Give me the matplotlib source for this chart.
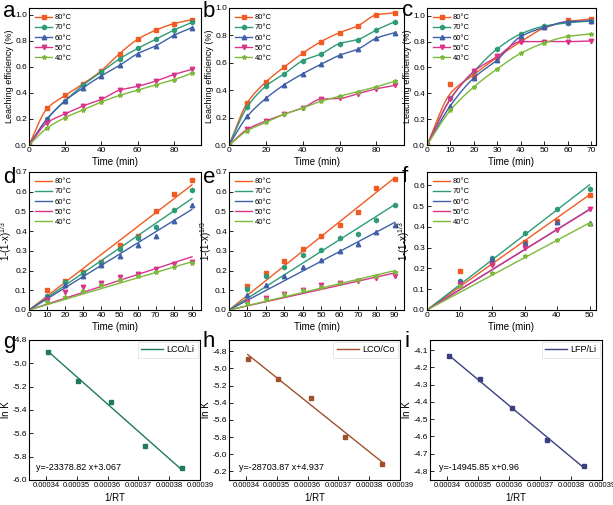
import numpy as np
import matplotlib.pyplot as plt
from matplotlib.ticker import FormatStrFormatter

plt.rcParams['font.family'] = ['Liberation Sans', 'DejaVu Sans']
plt.rcParams['axes.unicode_minus'] = False
plt.rcParams['mathtext.default'] = 'regular'

# ---------- data ----------
temps = ['80°C', '70°C', '60°C', '50°C', '40°C']
colors = ['#F15A22', '#2E9B78', '#3F5FA8', '#D9348A', '#7CB93A']
markers = ['s', 'h', '^', 'v', '*']

t_90 = [0, 10, 20, 30, 40, 50, 60, 70, 80, 90]
t_70 = [0, 10, 20, 30, 40, 50, 60, 70]

a_80 = [0, 0.28, 0.38, 0.47, 0.57, 0.70, 0.81, 0.88, 0.93, 0.96]
a_70 = [0, 0.20, 0.34, 0.46, 0.56, 0.66, 0.74, 0.81, 0.88, 0.94]
a_60 = [0, 0.20, 0.34, 0.44, 0.53, 0.61, 0.70, 0.76, 0.84, 0.90]
a_50 = [0, 0.17, 0.24, 0.30, 0.35, 0.42, 0.45, 0.49, 0.54, 0.58]
a_40 = [0, 0.13, 0.21, 0.27, 0.33, 0.38, 0.42, 0.46, 0.50, 0.55]

b_80 = [0, 0.31, 0.46, 0.57, 0.67, 0.755, 0.82, 0.87, 0.95, 0.965]
b_70 = [0, 0.28, 0.43, 0.52, 0.615, 0.665, 0.74, 0.77, 0.84, 0.90]
b_60 = [0, 0.21, 0.34, 0.44, 0.52, 0.59, 0.655, 0.70, 0.78, 0.82]
b_50 = [0, 0.115, 0.175, 0.225, 0.27, 0.335, 0.34, 0.375, 0.41, 0.435]
b_40 = [0, 0.105, 0.165, 0.225, 0.27, 0.32, 0.355, 0.39, 0.425, 0.465]

c_80 = [0, 0.47, 0.535, 0.68, 0.81, 0.91, 0.97, 0.975]
c_70 = [0, 0.36, 0.57, 0.745, 0.86, 0.92, 0.945, 0.96]
c_60 = [0, 0.305, 0.52, 0.66, 0.84, 0.91, 0.955, 0.96]
c_50 = [0, 0.355, 0.57, 0.685, 0.80, 0.80, 0.80, 0.805]
c_40 = [0, 0.27, 0.45, 0.59, 0.71, 0.79, 0.84, 0.86]
# fitted curve of 80°C in panel c does not pass through its points
c_80_line = [0, 0.40, 0.545, 0.68, 0.80, 0.905, 0.955, 0.975]

t_d = [10, 20, 30, 40, 50, 60, 70, 80, 90]
d_80 = [0.10, 0.147, 0.195, 0.245, 0.33, 0.375, 0.50, 0.59, 0.66]
d_70 = [0.072, 0.14, 0.19, 0.24, 0.307, 0.363, 0.42, 0.505, 0.607]
d_60 = [0.068, 0.127, 0.174, 0.228, 0.275, 0.332, 0.376, 0.452, 0.535]
d_50 = [0.05, 0.09, 0.115, 0.135, 0.168, 0.182, 0.207, 0.231, 0.245]
d_40 = [0.042, 0.068, 0.096, 0.126, 0.152, 0.172, 0.194, 0.216, 0.236]
d_k = [0.00705, 0.00628, 0.00567, 0.0030, 0.00272]

e_80 = [0.12, 0.188, 0.247, 0.309, 0.376, 0.431, 0.498, 0.62, 0.666]
e_70 = [0.108, 0.175, 0.218, 0.277, 0.305, 0.364, 0.384, 0.456, 0.535]
e_60 = [0.078, 0.126, 0.175, 0.218, 0.255, 0.30, 0.334, 0.398, 0.431]
e_50 = [0.04, 0.062, 0.082, 0.099, 0.129, 0.138, 0.146, 0.163, 0.175]
e_40 = [0.037, 0.057, 0.079, 0.10, 0.117, 0.138, 0.154, 0.175, 0.191]
e_k = [0.00746, 0.00594, 0.00494, 0.00209, 0.00222]

t_f = [10, 20, 30, 40, 50]
f_80 = [0.19, 0.227, 0.328, 0.428, 0.555]
f_70 = [0.14, 0.25, 0.373, 0.487, 0.583]
f_60 = [0.138, 0.248, 0.322, 0.424, 0.42]
f_50 = [0.124, 0.217, 0.30, 0.384, 0.487]
f_40 = [0.115, 0.18, 0.262, 0.338, 0.413]
f_k = [0.0111, 0.01206, 0.0097, 0.00968, 0.0084]

inv_rt = [0.0003406, 0.0003505, 0.000361, 0.0003722, 0.0003841]
g_lnk = [-4.905, -5.15, -5.335, -5.708, -5.895]
h_lnk = [-4.89, -5.12, -5.35, -5.80, -6.11]
i_lnk = [-4.133, -4.27, -4.435, -4.622, -4.77]
fits = [(-23378.82, 3.067), (-28703.87, 4.937), (-14945.85, 0.96)]
fit_labels = ['y=-23378.82 x+3.067', 'y=-28703.87 x+4.937', 'y=-14945.85 x+0.96']
arr_names = ['LCO/Li', 'LCO/Co', 'LFP/Li']
arr_colors = ['#1F7A5C', '#A3502A', '#3B3F80']


def smooth(x, y, n=200):
    # monotone cubic (pchip) curve through the points, like Origin's spline line
    x = np.asarray(x, float)
    y = np.asarray(y, float)
    h = np.diff(x)
    d = np.diff(y) / h
    m = np.zeros_like(y)
    m[0], m[-1] = d[0], d[-1]
    for k in range(1, len(x) - 1):
        if d[k - 1] * d[k] > 0:
            w1 = 2 * h[k] + h[k - 1]
            w2 = h[k] + 2 * h[k - 1]
            m[k] = (w1 + w2) / (w1 / d[k - 1] + w2 / d[k])
    xs = np.linspace(x[0], x[-1], n)
    i = np.clip(np.searchsorted(x, xs) - 1, 0, len(x) - 2)
    t = (xs - x[i]) / h[i]
    ys = ((2 * t**3 - 3 * t**2 + 1) * y[i] + (t**3 - 2 * t**2 + t) * h[i] * m[i]
          + (-2 * t**3 + 3 * t**2) * y[i + 1] + (t**3 - t**2) * h[i] * m[i + 1])
    return xs, ys


def style(ax, xsize=6):
    ax.tick_params(direction='in', labelsize=6, length=3, width=0.6, pad=1.5)
    ax.tick_params(axis='x', labelsize=xsize)
    for s in ax.spines.values():
        s.set_linewidth(0.8)


W, H = 613, 505
fig = plt.figure(figsize=(W / 100, H / 100), dpi=100)


def add_ax(l, t, r, b):
    return fig.add_axes([l / W, 1 - b / H, (r - l) / W, (b - t) / H])


cols = [(29, 201), (229, 404), (427, 596)]
cols3 = [(29, 200), (229, 400), (430, 602)]
rows = [(8, 145), (172, 310), (340, 480)]

leg_kw = dict(loc='upper left', fontsize=5.5, frameon=False, handlelength=2.2,
              labelspacing=0.35, borderaxespad=0.4, handletextpad=0.4)

# ---------- row 1: leaching efficiency ----------
row1 = [(t_90, [a_80, a_70, a_60, a_50, a_40], None, (0, 95), (0, 1.05), [0, 20, 40, 60, 80]),
        (t_90, [b_80, b_70, b_60, b_50, b_40], None, (0, 95), (0, 1.0), [0, 20, 40, 60, 80]),
        (t_70, [c_80, c_70, c_60, c_50, c_40], c_80_line, (0, 72), (0, 1.06), [0, 10, 20, 30, 40, 50, 60, 70])]
for j, (tt, series, first_line, xl, yl, xt) in enumerate(row1):
    ax = add_ax(cols[j][0], rows[0][0], cols[j][1], rows[0][1])
    for k, ys in enumerate(series):
        line_y = first_line if (k == 0 and first_line is not None) else ys
        xs, sy = smooth(tt, line_y)
        ax.plot(xs, sy, color=colors[k], lw=1.0)
        ax.plot(tt, ys, ls='none', marker=markers[k], color=colors[k], ms=3.2)
        ax.plot([], [], color=colors[k], lw=1.0, marker=markers[k], ms=3.2, label=temps[k])
    ax.set_xlim(*xl)
    ax.set_ylim(*yl)
    ax.set_xticks(xt)
    ax.set_yticks([0, 0.2, 0.4, 0.6, 0.8, 1.0])
    ax.yaxis.set_major_formatter(FormatStrFormatter('%.1f'))
    ax.set_xlabel('Time (min)', fontsize=7, labelpad=2)
    ax.set_ylabel('Leaching efficiency (%)', fontsize=6.5, labelpad=1)
    ax.legend(**leg_kw)
    style(ax)

# ---------- row 2: shrinking core kinetics ----------
row2 = [(t_d, [d_80, d_70, d_60, d_50, d_40], d_k, 90, (0, 95), (0, 0.7), np.arange(0, 91, 10), np.arange(0, 0.71, 0.1)),
        (t_d, [e_80, e_70, e_60, e_50, e_40], e_k, 90, (0, 95), (0, 0.7), np.arange(0, 91, 10), np.arange(0, 0.71, 0.1)),
        (t_f, [f_80, f_70, f_60, f_50, f_40], f_k, 50, (0, 52), (0, 0.665), np.arange(0, 51, 10), np.arange(0, 0.61, 0.1))]
for j, (tt, series, ks, tmax, xl, yl, xt, yt) in enumerate(row2):
    ax = add_ax(cols[j][0], rows[1][0], cols[j][1], rows[1][1])
    for k, ys in enumerate(series):
        ax.plot([0, tmax], [0, ks[k] * tmax], color=colors[k], lw=1.0, label=temps[k])
        ax.plot(tt, ys, ls='none', marker=markers[k], color=colors[k], ms=3.2)
    ax.set_xlim(*xl)
    ax.set_ylim(*yl)
    ax.set_xticks(xt)
    ax.set_yticks(yt)
    ax.yaxis.set_major_formatter(FormatStrFormatter('%.1f'))
    ax.set_xlabel('Time (min)', fontsize=7, labelpad=2)
    ax.set_ylabel('1-(1-x)$^{1/3}$', fontsize=7, labelpad=1)
    ax.legend(**leg_kw)
    style(ax)

# ---------- row 3: Arrhenius plots ----------
row3 = [(g_lnk, (-6.0, -4.8), np.arange(-6.0, -4.79, 0.2), (0.04, 0.07)),
        (h_lnk, (-6.3, -4.67), np.arange(-6.2, -4.79, 0.2), (0.06, 0.07)),
        (i_lnk, (-4.852, -4.042), np.arange(-4.8, -4.09, 0.1), (0.05, 0.07))]
for j, (lnk, yl, yt, tpos) in enumerate(row3):
    ax = add_ax(cols3[j][0], rows[2][0], cols3[j][1], rows[2][1])
    slope, icpt = fits[j]
    xs = np.array([inv_rt[0], inv_rt[-1]])
    ax.plot(xs, slope * xs + icpt, color=arr_colors[j], lw=1.0, label=arr_names[j])
    ax.plot(inv_rt, lnk, ls='none', marker='s', color=arr_colors[j], ms=3)
    ax.set_xlim(0.0003345, 0.00039)
    ax.set_ylim(*yl)
    ax.set_xticks([0.00034, 0.00035, 0.00036, 0.00037, 0.00038, 0.00039])
    ax.xaxis.set_major_formatter(FormatStrFormatter('%.5f'))
    ax.set_yticks(yt)
    ax.yaxis.set_major_formatter(FormatStrFormatter('%.1f'))
    ax.set_xlabel('1/RT', fontsize=7, labelpad=3)
    ax.set_ylabel('ln K', fontsize=7, labelpad=1)
    ax.text(tpos[0], tpos[1], fit_labels[j], transform=ax.transAxes, fontsize=6.5)
    leg = ax.legend(loc='upper right', fontsize=6.5, frameon=True, fancybox=False,
                    handlelength=2.4, borderaxespad=0.2, handletextpad=0.4)
    leg.get_frame().set_edgecolor('#dddddd')
    leg.get_frame().set_linewidth(0.6)
    style(ax, xsize=5.5)

# panel letters
letters = [('a', 3, 17), ('b', 203, 17), ('c', 402, 16),
           ('d', 3, 183), ('e', 203, 183), ('f', 402, 182),
           ('g', 3, 348), ('h', 203, 347), ('i', 405, 347)]
for s, x, y in letters:
    fig.text(x / W, 1 - y / H, s, fontsize=16, va='baseline')

fig.savefig('out.png', dpi=100)
